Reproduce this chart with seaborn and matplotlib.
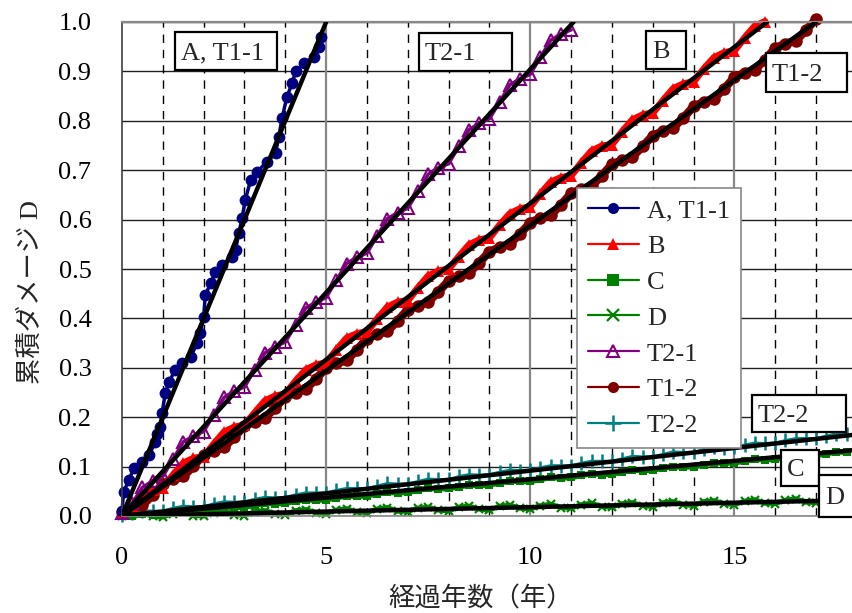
import matplotlib
matplotlib.use("Agg")
import matplotlib.pyplot as plt
import seaborn as sns
import numpy as np
from matplotlib.patches import Rectangle
from matplotlib.lines import Line2D

# ---------------- data ----------------
a_x = [0.0, 0.04, 0.17, 0.29, 0.49, 0.66, 0.82, 0.86, 0.94, 0.98, 1.06, 1.15, 1.31, 1.47, 1.68, 1.84, 1.92,
       2.00, 2.04, 2.17, 2.29, 2.45, 2.70, 2.78, 2.86, 2.94, 3.02, 3.15, 3.31, 3.55, 3.76, 3.84, 3.92, 4.04,
       4.17, 4.25, 4.45, 4.70, 4.82, 4.88]
a_y = [0.01, 0.049, 0.073, 0.097, 0.110, 0.123, 0.150, 0.167, 0.181, 0.208, 0.248, 0.272, 0.296, 0.309,
       0.322, 0.350, 0.370, 0.403, 0.447, 0.471, 0.494, 0.508, 0.525, 0.538, 0.572, 0.603, 0.640, 0.680,
       0.697, 0.717, 0.734, 0.768, 0.805, 0.849, 0.876, 0.900, 0.916, 0.930, 0.950, 0.970]

# quarterly readings (years 0, 0.25, 0.5, ...)
b_y = [0.005, 0.020, 0.044, 0.053, 0.057, 0.083, 0.107, 0.117, 0.120, 0.146, 0.170, 0.180, 0.184, 0.209,
       0.233, 0.243, 0.247, 0.273, 0.296, 0.306, 0.310, 0.336, 0.360, 0.369, 0.373, 0.399, 0.423, 0.433,
       0.436, 0.462, 0.486, 0.496, 0.500, 0.525, 0.549, 0.559, 0.563, 0.589, 0.612, 0.622, 0.626, 0.652,
       0.676, 0.685, 0.689, 0.715, 0.739, 0.749, 0.752, 0.778, 0.802, 0.812, 0.816, 0.841, 0.865, 0.875,
       0.879, 0.905, 0.928, 0.938, 0.942, 0.968, 0.992, 1.001]
t12_y = [0.008, 0.015, 0.022, 0.042, 0.065, 0.074, 0.080, 0.101, 0.124, 0.132, 0.139, 0.160, 0.182, 0.191,
         0.198, 0.219, 0.241, 0.250, 0.257, 0.277, 0.300, 0.309, 0.315, 0.336, 0.359, 0.368, 0.374, 0.395,
         0.418, 0.426, 0.433, 0.454, 0.476, 0.485, 0.492, 0.513, 0.535, 0.544, 0.551, 0.571, 0.594, 0.603,
         0.609, 0.630, 0.653, 0.662, 0.668, 0.689, 0.712, 0.720, 0.727, 0.748, 0.770, 0.779, 0.786, 0.806,
         0.829, 0.838, 0.845, 0.865, 0.888, 0.897, 0.903, 0.924, 0.947, 0.956, 0.962, 0.983, 1.006]
t21_y = [0.006, 0.026, 0.058, 0.071, 0.080, 0.115, 0.150, 0.162, 0.171, 0.205, 0.240, 0.253, 0.261, 0.296,
         0.330, 0.343, 0.352, 0.386, 0.421, 0.433, 0.442, 0.477, 0.511, 0.524, 0.532, 0.567, 0.602, 0.614,
         0.623, 0.657, 0.692, 0.705, 0.713, 0.748, 0.782, 0.795, 0.804, 0.838, 0.873, 0.885, 0.894, 0.929,
         0.963, 0.976, 0.984]
c_y = [0.002, 0.000, 0.004, 0.003, 0.004, 0.007, 0.011, 0.010, 0.011, 0.015, 0.019, 0.017, 0.018, 0.022,
       0.026, 0.025, 0.026, 0.030, 0.033, 0.032, 0.033, 0.037, 0.041, 0.040, 0.041, 0.045, 0.048, 0.047,
       0.048, 0.052, 0.056, 0.055, 0.056, 0.059, 0.063, 0.062, 0.063, 0.067, 0.071, 0.070, 0.070, 0.074,
       0.078, 0.077, 0.078, 0.082, 0.086, 0.084, 0.085, 0.089, 0.093, 0.092, 0.093, 0.097, 0.100, 0.099,
       0.100, 0.104, 0.108, 0.107, 0.108, 0.111, 0.115, 0.114, 0.115, 0.119, 0.123, 0.122, 0.123, 0.126,
       0.130, 0.129]
t22_y = [0.002, 0.006, 0.011, 0.010, 0.010, 0.016, 0.020, 0.019, 0.019, 0.025, 0.029, 0.028, 0.029, 0.034,
         0.038, 0.037, 0.038, 0.043, 0.047, 0.047, 0.047, 0.052, 0.056, 0.056, 0.056, 0.061, 0.066, 0.065,
         0.065, 0.070, 0.075, 0.074, 0.074, 0.080, 0.084, 0.083, 0.084, 0.089, 0.093, 0.092, 0.093, 0.098,
         0.102, 0.102, 0.102, 0.107, 0.111, 0.111, 0.111, 0.116, 0.121, 0.120, 0.120, 0.125, 0.130, 0.129,
         0.129, 0.135, 0.139, 0.138, 0.139, 0.144, 0.148, 0.147, 0.148, 0.153, 0.157, 0.157, 0.157, 0.162,
         0.167, 0.166]
d_y = [0.000, 0.003, 0.006, -0.001, -0.002, 0.005, 0.008, 0.001, 0.000, 0.007, 0.010, 0.003, 0.001, 0.009,
       0.011, 0.005, 0.003, 0.011, 0.013, 0.007, 0.005, 0.012, 0.015, 0.008, 0.007, 0.014, 0.017, 0.010,
       0.009, 0.016, 0.018, 0.012, 0.010, 0.018, 0.020, 0.014, 0.012, 0.020, 0.022, 0.016, 0.014, 0.021,
       0.024, 0.017, 0.016, 0.023, 0.026, 0.019, 0.018, 0.025, 0.027, 0.021, 0.019, 0.027, 0.029, 0.023,
       0.021, 0.029, 0.031, 0.025, 0.023, 0.030, 0.033, 0.026, 0.025, 0.032, 0.035, 0.028, 0.027, 0.034,
       0.037, 0.030]

# fitted straight lines: end point (years, damage), all start at the origin
fit_names = ["A, T1-1", "T2-1", "B", "T1-2", "T2-2", "C", "D"]
fit_end_x = [5.0, 11.06, 15.8, 17.0, 17.88, 17.88, 17.88]
fit_end_y = [1.0, 1.0, 1.0, 1.0, 0.164, 0.133, 0.032]

x_ticks = [0, 5, 10, 15]
y_ticks = [0.0, 0.1, 0.2, 0.3, 0.4, 0.5, 0.6, 0.7, 0.8, 0.9, 1.0]


def quarters(vals):
    return [0.25 * i for i in range(len(vals))]


# ---------------- styling ----------------
sns.set_theme(style="white")
plt.rcParams["font.family"] = ["Liberation Serif", "Noto Sans CJK JP"]
plt.rcParams["axes.unicode_minus"] = False

W, H = 852, 613
fig = plt.figure(figsize=(W / 100, H / 100), dpi=100)
L, R, T, B = 122, 852, 22, 516
ax = fig.add_axes([L / W, 1 - B / H, (R - L) / W, (B - T) / H])
ax.set_facecolor("white")
ax.set_xlim(0, 17.88)
ax.set_ylim(0, 1.0)

# grid
for yv in y_ticks:
    ax.axhline(yv, color="#202020", linewidth=1.0, zorder=0.5)
for xv in range(1, 18):
    if xv % 5 == 0:
        ax.axvline(xv, color="#888888", linewidth=1.6, zorder=0.5)
    else:
        ax.axvline(xv, color="#000000", linewidth=1.0, linestyle=(0, (6, 5)), zorder=0.5)

series = [
    ("A, T1-1", a_x, a_y, dict(color="#000080", marker="o", ms=8.5, mfc="#000080", mec="#000080", mew=0, lw=2.5)),
    ("B", quarters(b_y), b_y, dict(color="#ff0000", marker="^", ms=9, mfc="#ff0000", mec="#ff0000", mew=0, lw=5.0)),
    ("C", quarters(c_y), c_y, dict(color="#008000", marker="s", ms=5.5, mfc="#008000", mec="#008000", mew=0, lw=4.0)),
    ("D", quarters(d_y), d_y, dict(color="#008000", marker="x", ms=6, mfc="#008000", mec="#008000", mew=1.6, lw=3.5)),
    ("T2-1", quarters(t21_y), t21_y, dict(color="#800080", marker="^", ms=8, mfc="none", mec="#800080", mew=1.5, lw=2.5)),
    ("T1-2", quarters(t12_y), t12_y, dict(color="#800000", marker="o", ms=9, mfc="#800000", mec="#800000", mew=0, lw=6.0)),
    ("T2-2", quarters(t22_y), t22_y, dict(color="#008080", marker="|", ms=10, mfc="#008080", mec="#008080", mew=1.8, lw=2.0)),
]

draw_order = ["T2-2", "C", "D", "T1-2", "B", "T2-1", "A, T1-1"]
sd = {s[0]: s for s in series}
for name in draw_order:
    _, xs, ys, st = sd[name]
    n_before = len(ax.lines)
    sns.lineplot(x=xs, y=ys, ax=ax, sort=False, estimator=None, color=st["color"],
                 marker=st["marker"], markersize=st["ms"], markerfacecolor=st["mfc"],
                 markeredgecolor=st["mec"], markeredgewidth=st["mew"], legend=False, zorder=2,
                 clip_on=False)
    for ln in ax.lines[n_before:]:
        ln.set_linewidth(st["lw"])
        ln.set_solid_joinstyle("round")

for n, ex, ey in zip(fit_names, fit_end_x, fit_end_y):
    n_before = len(ax.lines)
    sns.lineplot(x=[0.0, ex], y=[0.0, ey], ax=ax, color="black", legend=False, zorder=3,
                 estimator=None, sort=False)
    for ln in ax.lines[n_before:]:
        ln.set_linewidth(3.2)

# spines
ax.spines["right"].set_visible(False)
ax.spines["top"].set_color("#888888")
ax.spines["top"].set_linewidth(1.6)
ax.spines["bottom"].set_color("#888888")
ax.spines["bottom"].set_linewidth(1.2)
ax.spines["left"].set_color("#404040")
ax.spines["left"].set_linewidth(1.2)

ax.set_xticks(x_ticks)
ax.set_yticks(y_ticks)
ax.set_xticklabels([str(v) for v in x_ticks], fontfamily="Liberation Serif")
ax.set_yticklabels([f"{v:.1f}" for v in y_ticks], fontfamily="Liberation Serif")
ax.tick_params(axis="both", direction="in", length=7, width=1.2, color="#404040",
               labelsize=19, pad=22, labelcolor="black")
ax.tick_params(axis="x", length=0)
ax.set_xlabel("")
ax.set_ylabel("")

# axis titles
fig.text(481 / W, 1 - 599 / H, "経過年数（年）", ha="center", va="center", fontsize=19,
         family=["Noto Sans CJK JP", "DejaVu Sans"])
fig.text(31 / W, 1 - 292 / H, "累積ダメージ D", ha="center", va="center", rotation=90, fontsize=19,
         family=["Liberation Serif", "Noto Sans CJK JP"])

# legend
leg_ms = {"A, T1-1": 8, "B": 9, "C": 8, "D": 8, "T2-1": 8, "T1-2": 8, "T2-2": 11}
handles = []
for name, xs, ys, st in series:
    mk = "+" if name == "T2-2" else st["marker"]
    handles.append(Line2D([0], [0], color=st["color"], linewidth=1.6, marker=mk, markersize=leg_ms[name],
                          markerfacecolor=st["mfc"], markeredgecolor=st["mec"],
                          markeredgewidth=(st["mew"] if st["mew"] else 0), label=name))
leg = fig.legend(handles=handles, loc="upper left", bbox_to_anchor=(577 / W, 1 - 188 / H),
                 frameon=True, fancybox=False, framealpha=1, edgecolor="#888888",
                 prop={"family": "Liberation Serif", "size": 19}, handlelength=1.95,
                 handletextpad=0.3, labelspacing=0.47, borderpad=0.4, borderaxespad=0)
leg.get_frame().set_linewidth(1.2)


# label boxes (pixel coordinates, origin top-left)
def label_box(x0, y0, x1, y1, text):
    rect = Rectangle((x0 / W, 1 - y1 / H), (x1 - x0) / W, (y1 - y0) / H, transform=fig.transFigure,
                     facecolor="white", edgecolor="black", linewidth=1.6, zorder=10, clip_on=False)
    fig.add_artist(rect)
    fig.text((x0 + 6) / W, 1 - (y0 + y1) / 2 / H, text, ha="left", va="center_baseline",
             fontsize=19, family="Liberation Serif", zorder=11)


label_box(175, 32, 277, 70, "A, T1-1")
label_box(419, 33, 512, 71, "T2-1")
label_box(646, 31, 686, 69, "B")
label_box(766, 53, 847, 92, "T1-2")
label_box(752, 395, 846, 432, "T2-2")
label_box(781, 450, 819, 486, "C")
label_box(819, 475, 870, 517, "D")

fig.savefig("out.png", dpi=100)
